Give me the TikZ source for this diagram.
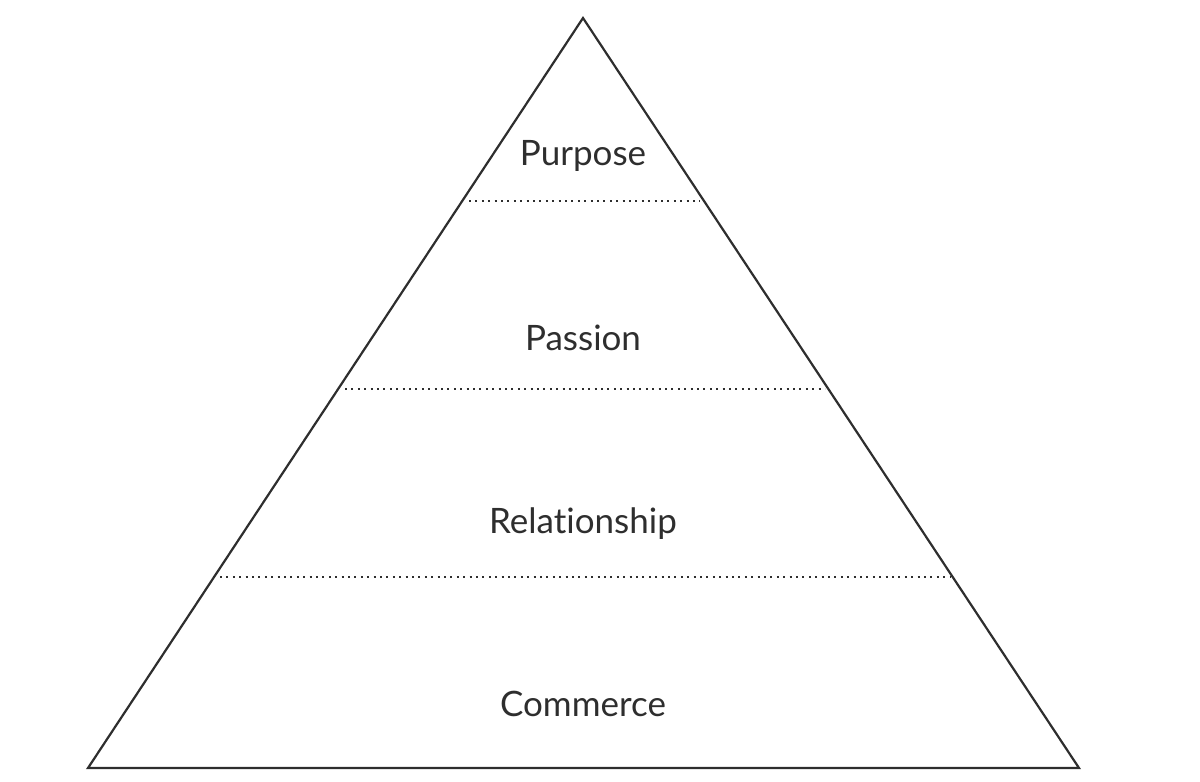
\documentclass[tikz,border=0pt]{standalone}
\usepackage{fontspec}
\setmainfont[Ligatures={NoCommon,NoDiscretionary}]{Lato}
\definecolor{ink}{HTML}{2E2E2E}
\begin{document}
\begin{tikzpicture}[x=1pt,y=-1pt,
  edge/.style={draw=ink,line width=2.2pt,line join=miter},
  sep/.style={draw=ink,line width=2pt,dash pattern=on 2pt off 4.4pt},
  lbl/.style={text=ink,font=\fontsize{35}{38}\selectfont,anchor=base}]
\useasboundingbox (0,0) rectangle (1200,782);
\coordinate (apex) at (583,18);
\coordinate (bl) at (88,768);
\coordinate (br) at (1079,768);
\draw[edge] (apex) -- (bl) -- (br) -- cycle;
\coordinate (a1) at (469,201); \coordinate (b1) at (700,201);
\coordinate (a2) at (345,389); \coordinate (b2) at (825,389);
\coordinate (a3) at (220,577); \coordinate (b3) at (950,577);
\draw[sep] (a1) -- (b1);
\draw[sep] (a2) -- (b2);
\draw[sep] (a3) -- (b3);
\node[lbl] (purpose) at (583,165) {Purpose};
\node[lbl] (passion) at (583,350) {Passion};
\node[lbl] (relationship) at (583,533) {Relationship};
\node[lbl] (commerce) at (583,716) {Commerce};
\end{tikzpicture}
\end{document}
